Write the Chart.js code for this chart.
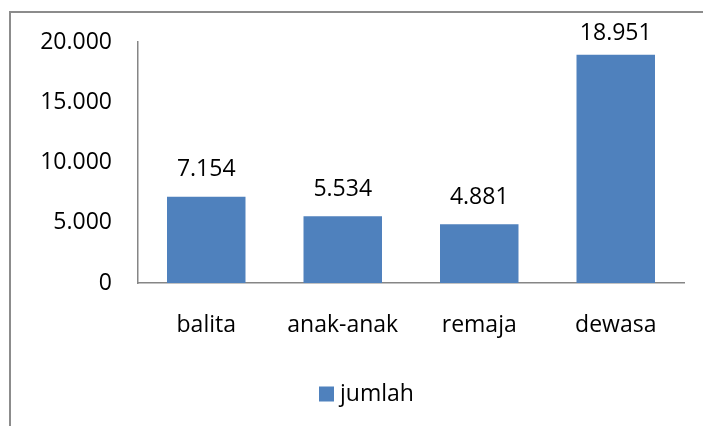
<!DOCTYPE html>
<html>
<head>
<meta charset="utf-8">
<script src="https://cdn.jsdelivr.net/npm/chart.js@4"></script>
<style>
  html, body { margin: 0; padding: 0; background: #fff; }
  #wrap { position: relative; width: 703px; height: 426px; }
  #frame { position: absolute; left: 9px; top: 11px; width: 700px; height: 420px;
           border-left: 2px solid #8c8c8c; border-top: 2px solid #8c8c8c; }
  canvas { position: absolute; left: 0; top: 0; }
</style>
</head>
<body>
<div id="wrap">
  <div id="frame"></div>
  <canvas id="chart" width="703" height="426"></canvas>
</div>
<script>
// data
var categories = ['balita', 'anak-anak', 'remaja', 'dewasa'];
var jumlah = [7154, 5534, 4881, 18951];
var seriesName = 'jumlah';
var yTicks = [0, 5000, 10000, 15000, 20000];

var FONT = '"Open Sans", sans-serif';
var SIZE = 23;

// 7154 -> "7.154"
function fmt(v) {
    return String(v).replace(/\B(?=(\d{3})+(?!\d))/g, '.');
}

// value labels above the bars + legend at the bottom
var barLabels = {
    id: 'barLabels',
    afterDatasetsDraw: function(chart) {
        var ctx = chart.ctx;
        var meta = chart.getDatasetMeta(0);
        var ds = chart.data.datasets[0];
        ctx.save();
        ctx.font = SIZE + 'px ' + FONT;
        ctx.fillStyle = '#000';
        ctx.textAlign = 'center';
        ctx.textBaseline = 'middle';
        meta.data.forEach(function(bar, i) {
            var y = Math.max(bar.y - 27, 33);
            ctx.fillText(fmt(ds.data[i]), bar.x, y);
        });

        // legend
        var boxX = 319, midY = 394;
        ctx.fillStyle = ds.backgroundColor;
        ctx.fillRect(boxX, midY - 7.5, 15, 15);
        ctx.fillStyle = '#000';
        ctx.textAlign = 'left';
        ctx.fillText(ds.label, boxX + 21, midY);
        ctx.restore();
    }
};

new Chart(document.getElementById('chart'), {
    type: 'bar',
    data: {
        labels: categories,
        datasets: [{
            label: seriesName,
            data: jumlah,
            backgroundColor: '#4f81bd',
            categoryPercentage: 0.575,
            barPercentage: 1
        }]
    },
    options: {
        responsive: false,
        animation: false,
        layout: { padding: { top: 42, right: 19, left: 0, bottom: 53 } },
        plugins: {
            legend: { display: false },
            tooltip: { enabled: false }
        },
        scales: {
            x: {
                grid: { display: false, drawTicks: false },
                border: { display: true, color: '#868686', width: 1.5 },
                ticks: { color: '#000', padding: 29, font: { family: FONT, size: SIZE } },
                afterFit: function(s) { s.height = 90; }
            },
            y: {
                min: 0, max: 20000,
                grid: { display: false, drawTicks: false },
                border: { display: true, color: '#868686', width: 1.5 },
                afterBuildTicks: function(s) {
                    s.ticks = yTicks.map(function(v) { return { value: v }; });
                },
                ticks: {
                    color: '#000', padding: 26,
                    font: { family: FONT, size: SIZE },
                    callback: function(v) { return fmt(v); }
                },
                afterFit: function(s) { s.width = 138; }
            }
        }
    },
    plugins: [barLabels]
});
</script>
</body>
</html>
